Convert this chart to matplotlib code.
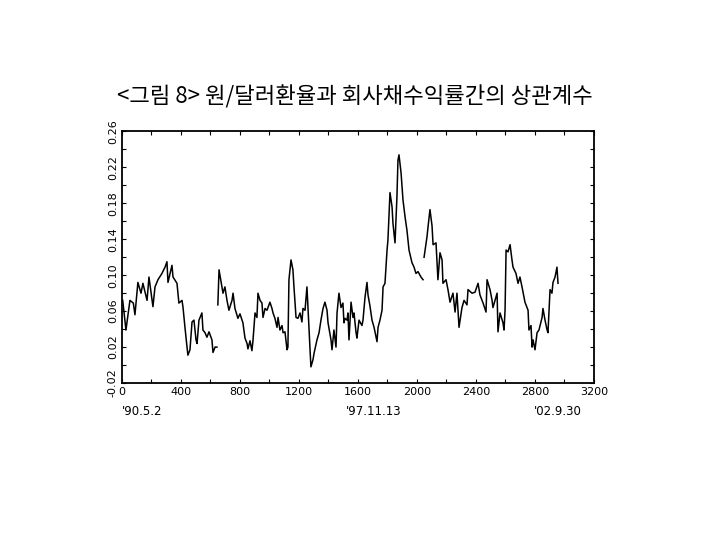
import matplotlib
matplotlib.use("Agg")
import matplotlib.pyplot as plt
from matplotlib.ticker import MultipleLocator

# series 1: day index 0 .. ~645
t1 = [5, 27, 54, 77, 88, 108, 129, 142, 170, 183, 210, 224, 244, 271, 292, 305,
      312, 339, 346, 373, 386, 407, 414, 427, 441, 447, 461, 475, 488, 502, 509,
      522, 542, 549, 563, 576, 590, 610, 617, 631, 644]
v1 = [0.072, 0.039, 0.072, 0.069, 0.056, 0.092, 0.080, 0.091, 0.072, 0.098, 0.065,
      0.087, 0.095, 0.102, 0.109, 0.115, 0.092, 0.111, 0.098, 0.091, 0.069, 0.072,
      0.064, 0.042, 0.020, 0.011, 0.017, 0.048, 0.050, 0.028, 0.024, 0.050, 0.058,
      0.039, 0.036, 0.031, 0.037, 0.028, 0.014, 0.020, 0.020]

# series 2: ~650 .. ~2041
t2 = [650, 658, 685, 698, 712, 725, 746, 753, 766, 786, 800, 820, 834, 848, 854,
      868, 881, 888, 902, 915, 922, 936, 949, 956, 970, 983, 1003, 1017, 1024, 1037,
      1051, 1058, 1071, 1085, 1092, 1105, 1119, 1125, 1132, 1146, 1159, 1166, 1180,
      1193, 1207, 1220, 1227, 1241, 1254, 1261, 1275, 1281, 1295, 1302, 1322, 1336,
      1349, 1363, 1376, 1390, 1397, 1417, 1424, 1437, 1451, 1458, 1471, 1485, 1498,
      1505, 1512, 1526, 1532, 1539, 1553, 1566, 1573, 1587, 1593, 1607, 1627, 1634,
      1648, 1661, 1668, 1681, 1695, 1709, 1729, 1736, 1749, 1763, 1770, 1783, 1797,
      1803, 1817, 1831, 1837, 1851, 1864, 1871, 1878, 1892, 1905, 1919, 1932, 1946,
      1966, 1980, 1993, 2007, 2027, 2041]
v2 = [0.067, 0.106, 0.080, 0.087, 0.072, 0.061, 0.072, 0.080, 0.063, 0.052, 0.057,
      0.047, 0.030, 0.024, 0.018, 0.027, 0.016, 0.027, 0.058, 0.053, 0.080, 0.072,
      0.069, 0.053, 0.063, 0.061, 0.070, 0.063, 0.058, 0.052, 0.042, 0.053, 0.039,
      0.044, 0.036, 0.037, 0.017, 0.020, 0.095, 0.117, 0.106, 0.087, 0.053, 0.052,
      0.058, 0.048, 0.063, 0.061, 0.087, 0.064, 0.017, -0.002, 0.006, 0.013, 0.028,
      0.036, 0.050, 0.063, 0.070, 0.061, 0.047, 0.028, 0.017, 0.039, 0.020, 0.058,
      0.080, 0.064, 0.069, 0.047, 0.052, 0.050, 0.058, 0.028, 0.070, 0.053, 0.058,
      0.036, 0.030, 0.050, 0.044, 0.050, 0.076, 0.092, 0.078, 0.066, 0.050, 0.042,
      0.026, 0.042, 0.050, 0.061, 0.087, 0.091, 0.128, 0.139, 0.192, 0.176, 0.158,
      0.136, 0.187, 0.228, 0.234, 0.214, 0.184, 0.165, 0.150, 0.128, 0.114, 0.109,
      0.102, 0.104, 0.098, 0.095]

# series 3: ~2048 .. ~2956
t3 = [2048, 2068, 2075, 2088, 2102, 2109, 2129, 2142, 2156, 2170, 2176, 2197, 2210,
      2224, 2244, 2258, 2271, 2285, 2305, 2319, 2339, 2346, 2373, 2393, 2414, 2427,
      2448, 2468, 2475, 2495, 2509, 2515, 2543, 2549, 2563, 2583, 2590, 2597, 2604,
      2617, 2631, 2644, 2651, 2671, 2685, 2698, 2712, 2732, 2753, 2759, 2773, 2780,
      2787, 2800, 2814, 2827, 2848, 2854, 2868, 2882, 2888, 2902, 2915, 2922, 2936,
      2949, 2956]
v3 = [0.120, 0.143, 0.154, 0.173, 0.155, 0.134, 0.136, 0.095, 0.125, 0.117, 0.091,
      0.095, 0.084, 0.070, 0.080, 0.059, 0.080, 0.042, 0.064, 0.072, 0.067, 0.084,
      0.080, 0.081, 0.091, 0.078, 0.069, 0.059, 0.095, 0.084, 0.072, 0.064, 0.080,
      0.037, 0.058, 0.047, 0.039, 0.061, 0.128, 0.126, 0.134, 0.117, 0.109, 0.102,
      0.091, 0.098, 0.087, 0.070, 0.061, 0.039, 0.044, 0.020, 0.028, 0.017, 0.036,
      0.039, 0.053, 0.063, 0.050, 0.039, 0.036, 0.084, 0.080, 0.092, 0.098, 0.109,
      0.091]

title = "<그림 8> 원/달러환율과 회사채수익률간의 상관계수"
date_labels = ["'90.5.2", "'97.11.13", "'02.9.30"]
date_pos = [0, 1520, 2790]

fig = plt.figure(figsize=(7.2, 5.4), dpi=100)
ax = fig.add_axes([0.1694, 0.2907, 0.6556, 0.4658])

for t, v in [(t1, v1), (t2, v2), (t3, v3)]:
    ax.plot(t, v, color="black", linewidth=1.1)

ax.set_xlim(0, 3200)
ax.set_ylim(-0.02, 0.26)
ax.xaxis.set_major_locator(MultipleLocator(400))
ax.xaxis.set_minor_locator(MultipleLocator(200))
ax.yaxis.set_minor_locator(MultipleLocator(0.02))
ax.set_yticks([-0.02 + 0.04 * i for i in range(8)])
ax.set_yticklabels([f"{-0.02 + 0.04 * i:.2f}" for i in range(8)],
                   rotation=90, va="center")
ax.tick_params(which="both", direction="in", length=3, width=0.8,
               top=True, right=True, labelsize=8, pad=3)
for s in ax.spines.values():
    s.set_linewidth(1.3)

for lab, pos in zip(date_labels, date_pos):
    ax.text(pos, -0.052, lab, ha="left", va="center", fontsize=8.5)

fig.text(0.493, 0.82, title, ha="center", va="center", fontsize=16,
         family=["Noto Sans CJK KR", "DejaVu Sans"])

fig.savefig("out.png")
